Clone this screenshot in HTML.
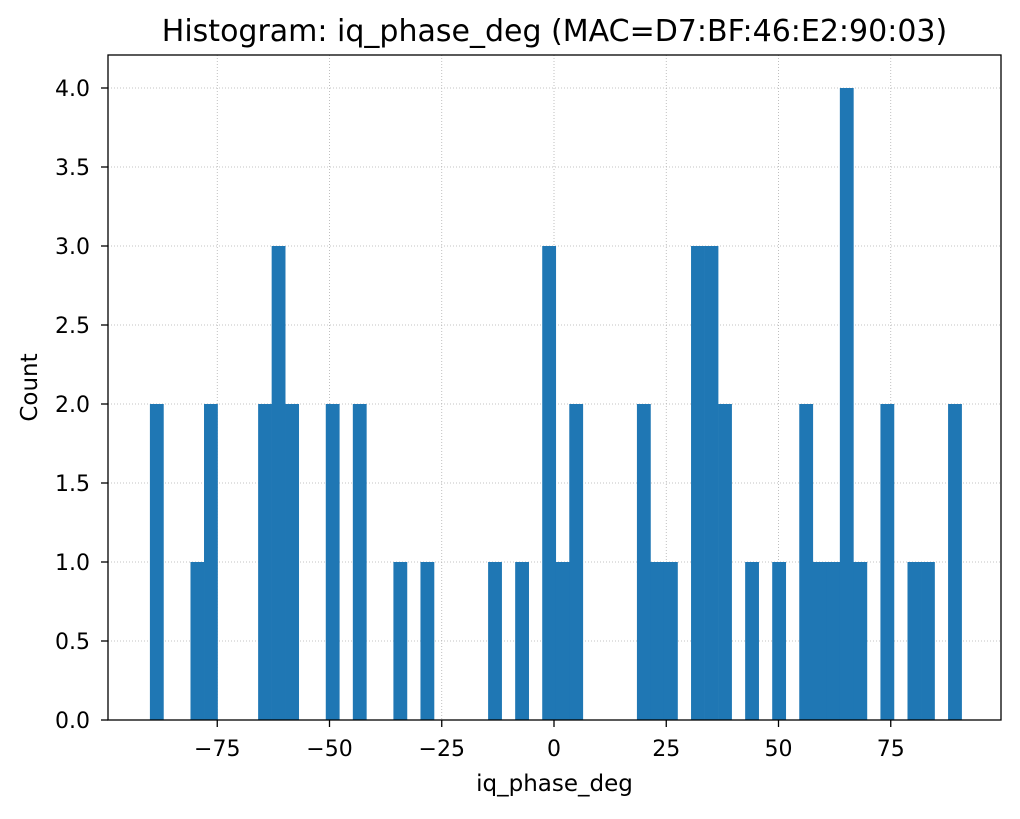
<!DOCTYPE html>
<html><head><meta charset="utf-8"><style>
body{margin:0;background:#fff;font-family:"DejaVu Sans","Liberation Sans",sans-serif}
</style></head><body>
<svg id="chart" width="1020" height="815" xmlns="http://www.w3.org/2000/svg"></svg>
<script>
const binStart = -90.0;
const binWidth = 3.013;
const counts = [2,0,0,1,2,0,0,0,2,3,2,0,0,2,0,2,0,0,1,0,1,0,0,0,0,1,0,1,0,3,1,2,0,0,0,0,2,1,1,0,3,3,2,0,1,0,1,0,2,1,1,4,1,0,2,0,1,1,0,2];
const xTicks = [-75,-50,-25,0,25,50,75];
const yTicks = [0,0.5,1,1.5,2,2.5,3,3.5,4];
const yTickLabels = ["0.0","0.5","1.0","1.5","2.0","2.5","3.0","3.5","4.0"];

const L=108,R=1001,T=55,B=720;
const X = v => 554 + v*4.49;
const Y = v => B - v*158;
const svg=document.getElementById('chart');
const NS='http://www.w3.org/2000/svg';
function mk(tag,attrs,parent){const e=document.createElementNS(NS,tag);for(const k in attrs)e.setAttribute(k,attrs[k]);(parent||svg).appendChild(e);return e;}

const grid=mk('g',{});


xTicks.forEach(v=>{mk('line',{x1:X(v),x2:X(v),y1:T,y2:B,stroke:'#b0b0b0','stroke-width':0.8,'stroke-dasharray':'1,2'},grid);});
yTicks.forEach(v=>{mk('line',{x1:L,x2:R,y1:Y(v),y2:Y(v),stroke:'#b0b0b0','stroke-width':0.8,'stroke-dasharray':'1,2'},grid);});

const bars=mk('g',{});


counts.forEach((c,i)=>{
  if(c<=0)return;
  const x0=X(binStart+i*binWidth), x1=X(binStart+(i+1)*binWidth);
  const r=mk('rect',{x:x0,y:Y(c),width:x1-x0+0.3,height:B-Y(c),fill:'#1f77b4'},bars);
  
  
});

const frame=mk('rect',{x:L,y:T,width:R-L,height:B-T,fill:'none',stroke:'#000','stroke-width':1.3});



const xa=mk('g',{});


xTicks.forEach(v=>{
  mk('line',{x1:X(v),x2:X(v),y1:B,y2:B+7,stroke:'#000','stroke-width':1.3},xa);
  const t=mk('text',{x:X(v),y:B+36,'text-anchor':'middle','font-size':22},xa);
  t.textContent=(v<0?'\u2212'+(-v):v);
  
  
});
const ya=mk('g',{});


yTicks.forEach((v,i)=>{
  mk('line',{x1:L-7,x2:L,y1:Y(v),y2:Y(v),stroke:'#000','stroke-width':1.3},ya);
  const t=mk('text',{x:L-18,y:Y(v)+8,'text-anchor':'end','font-size':22},ya);
  t.textContent=yTickLabels[i];
  
  
});
const xl=mk('text',{x:(L+R)/2,y:791,'text-anchor':'middle','font-size':23});
xl.textContent='iq_phase_deg';


const yl=mk('text',{x:37,y:(T+B)/2,'text-anchor':'middle','font-size':23,transform:'rotate(-90 37 '+((T+B)/2)+')'});
yl.textContent='Count';


const ti=mk('text',{x:(L+R)/2,y:41,'text-anchor':'middle','font-size':30});
ti.textContent='Histogram: iq_phase_deg (MAC=D7:BF:46:E2:90:03)';


</script>
</body></html>
